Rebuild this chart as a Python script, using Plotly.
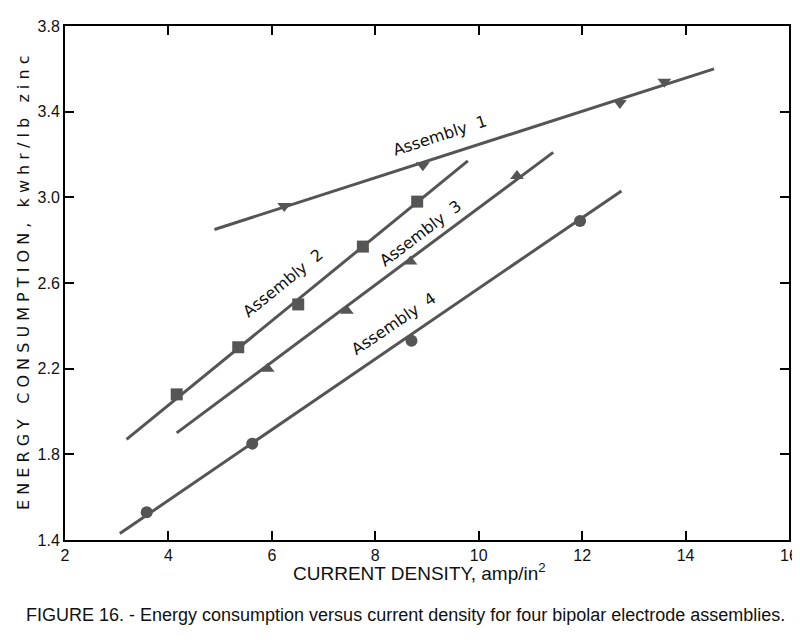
import plotly.graph_objects as go

# measured points (current density, amp/in2 ; energy, kwhr/lb zinc)
a1_x = [6.24, 8.92, 12.73, 13.59]
a1_y = [2.96, 3.15, 3.44, 3.54]
a2_x = [4.16, 5.35, 6.51, 7.76, 8.81]
a2_y = [2.08, 2.30, 2.50, 2.77, 2.98]
a3_x = [5.92, 7.45, 8.68, 10.74]
a3_y = [2.20, 2.47, 2.70, 3.10]
a4_x = [3.58, 5.62, 8.70, 11.96]
a4_y = [1.53, 1.85, 2.33, 2.89]

# fitted straight lines (end points)
fit1_x = [4.89, 14.55]
fit1_y = [2.85, 3.60]
fit2_x = [3.19, 9.79]
fit2_y = [1.87, 3.17]
fit3_x = [4.16, 11.44]
fit3_y = [1.90, 3.21]
fit4_x = [3.06, 12.76]
fit4_y = [1.43, 3.03]

x_ticks = [2, 4, 6, 8, 10, 12, 14, 16]
y_ticks = [1.4, 1.8, 2.2, 2.6, 3.0, 3.4, 3.8]

labels = ["Assembly  1", "Assembly  2", "Assembly  3", "Assembly  4"]

line_col = "#555555"
series = [
    (a1_x, a1_y, fit1_x, fit1_y, "triangle-down"),
    (a2_x, a2_y, fit2_x, fit2_y, "square"),
    (a3_x, a3_y, fit3_x, fit3_y, "triangle-up"),
    (a4_x, a4_y, fit4_x, fit4_y, "circle"),
]

fig = go.Figure()
for px, py, fx, fy, sym in series:
    fig.add_trace(go.Scatter(x=fx, y=fy, mode="lines",
                             line=dict(color=line_col, width=3), showlegend=False))
    fig.add_trace(go.Scatter(x=px, y=py, mode="markers",
                             marker=dict(symbol=sym, size=12, color=line_col),
                             showlegend=False))

# curve labels, rotated along each line
label_pos = [(9.25, 3.29, -18), (6.2, 2.60, -39), (8.87, 2.83, -37), (8.36, 2.41, -34)]
for txt, (lx, ly, ang) in zip(labels, label_pos):
    fig.add_annotation(x=lx, y=ly, text=txt, showarrow=False, textangle=ang,
                       font=dict(family="DejaVu Sans", size=16, color="#111"))

fig.add_annotation(xref="paper", yref="paper", x=0.49, y=-0.09, showarrow=False,
                   text="CURRENT DENSITY, amp/in<sup>2</sup>",
                   font=dict(family="Liberation Sans", size=19, color="#111"))
fig.add_annotation(xref="paper", yref="paper", x=0.47, y=-0.169,
                   showarrow=False,
                   text="FIGURE 16. - Energy consumption versus current density for four bipolar electrode assemblies.",
                   font=dict(family="Liberation Sans", size=18, color="#111"))
fig.add_annotation(xref="paper", yref="paper", x=-0.058, y=0.5, textangle=-90,
                   xanchor="center", yanchor="middle", showarrow=False,
                   text="E N E R G Y   C O N S U M P T I O N ,   k w h r / l b   z i n c",
                   font=dict(family="DejaVu Sans", size=16, color="#111"))

axis_common = dict(showline=True, linecolor="black", linewidth=2, mirror="ticks",
                   ticks="inside", ticklen=9, tickwidth=1.5, tickcolor="black",
                   showgrid=False, zeroline=False, ticklabeloverflow="allow",
                   tickfont=dict(family="Liberation Sans", size=16, color="#111"))
fig.update_xaxes(range=[2, 16], tickvals=x_ticks, ticktext=[str(v) for v in x_ticks],
                 **axis_common)
fig.update_yaxes(range=[1.4, 3.8], tickvals=y_ticks,
                 ticktext=["%.1f" % v for v in y_ticks], **axis_common)

fig.update_layout(width=800, height=640, plot_bgcolor="white", paper_bgcolor="white",
                  margin=dict(l=57, r=10, t=10, b=108))

fig.write_html("out.html")
